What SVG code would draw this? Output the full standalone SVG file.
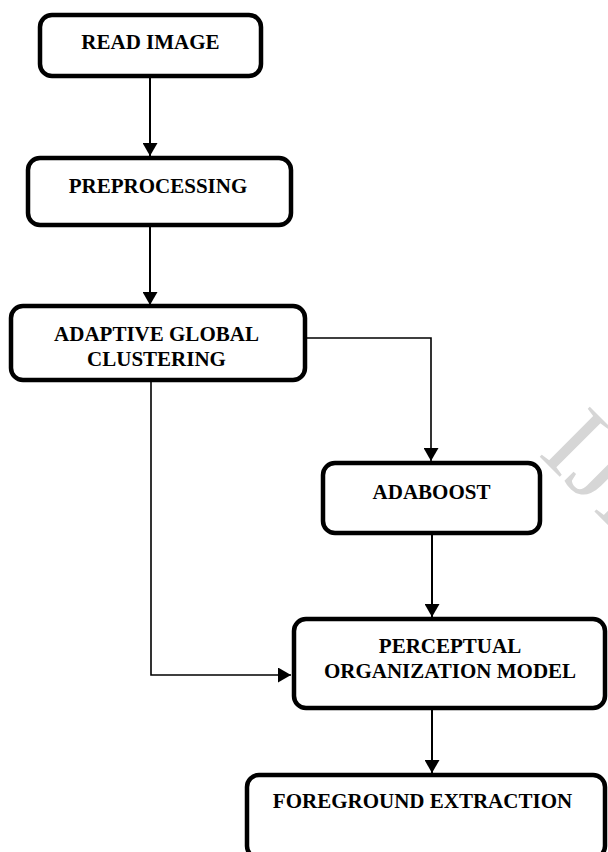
<svg xmlns="http://www.w3.org/2000/svg" width="608" height="852" viewBox="0 0 608 852">
<style>
.box{fill:#fff;stroke:#000;stroke-width:4.5}
.lbl{font-family:"Liberation Serif","Times New Roman",serif;font-weight:bold;font-size:21px;fill:#000;text-anchor:middle}
.ln{fill:none;stroke:#000;stroke-width:2}
.thin{fill:none;stroke:#000;stroke-width:1.6}
.wm{font-family:"Liberation Serif","Times New Roman",serif;font-size:108px;fill:#d6d6d6}
</style>
<defs>
<marker id="ah" markerUnits="userSpaceOnUse" markerWidth="14" markerHeight="15" refX="13" refY="7.5" orient="auto" viewBox="0 0 14 15">
<path d="M0,0 L13,7.5 L0,15 z" fill="#000"/>
</marker>
</defs>
<rect width="608" height="852" fill="#fff"/>
<text class="wm" transform="translate(537,454) rotate(45)">IJERT</text>
<g id="connectors">
<line class="ln" x1="150" y1="78" x2="150" y2="156" marker-end="url(#ah)"/>
<line class="ln" x1="150" y1="227" x2="150" y2="305" marker-end="url(#ah)"/>
<polyline class="thin" points="307,338 431,338 431,461" marker-end="url(#ah)"/>
<line class="ln" x1="432" y1="535" x2="432" y2="617" marker-end="url(#ah)"/>
<polyline class="thin" points="151,382 151,675 291,675" marker-end="url(#ah)"/>
<line class="ln" x1="432" y1="710" x2="432" y2="773" marker-end="url(#ah)"/>
</g>
<g id="read-image">
<rect class="box" x="40" y="15" width="221" height="61" rx="12"/>
<text class="lbl" x="150.5" y="49">READ IMAGE</text>
</g>
<g id="preprocessing">
<rect class="box" x="28" y="158" width="263" height="67" rx="12"/>
<text class="lbl" x="158" y="193">PREPROCESSING</text>
</g>
<g id="adaptive-global-clustering">
<rect class="box" x="11" y="306" width="294" height="74" rx="12"/>
<text class="lbl" x="156.5" y="341">ADAPTIVE GLOBAL</text>
<text class="lbl" x="156.5" y="366">CLUSTERING</text>
</g>
<g id="adaboost">
<rect class="box" x="323" y="463" width="217" height="70" rx="12"/>
<text class="lbl" x="431.5" y="499">ADABOOST</text>
</g>
<g id="perceptual-organization-model">
<rect class="box" x="294" y="619" width="311" height="89" rx="12"/>
<text class="lbl" x="450" y="653">PERCEPTUAL</text>
<text class="lbl" x="450" y="678">ORGANIZATION MODEL</text>
</g>
<g id="foreground-extraction">
<rect class="box" x="247" y="775" width="358" height="83" rx="12"/>
<text class="lbl" x="422.5" y="808">FOREGROUND EXTRACTION</text>
</g>
</svg>
